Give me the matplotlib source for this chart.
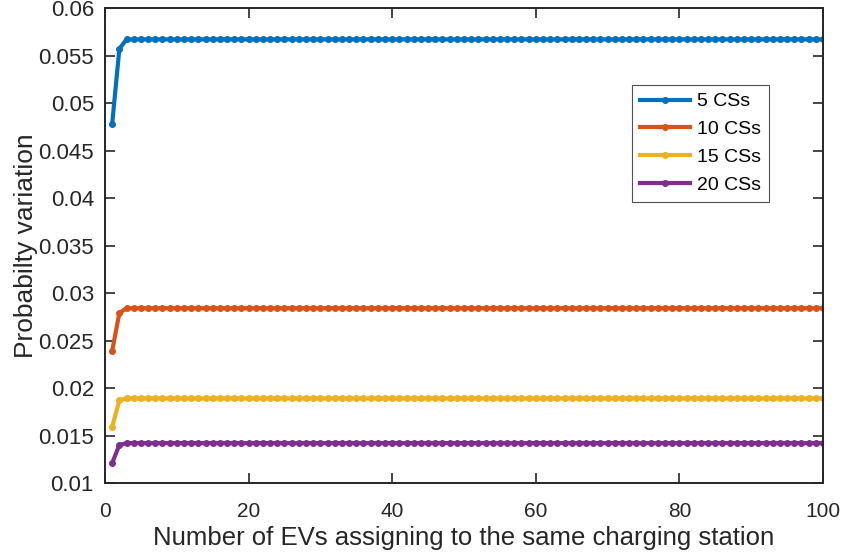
import numpy as np
import matplotlib
matplotlib.use("Agg")
import matplotlib.pyplot as plt

plt.rcParams["font.family"] = ["Liberation Sans", "DejaVu Sans"]

# x axis: number of EVs (1..100)
n_evs = np.arange(1, 101)

labels = ["5 CSs", "10 CSs", "15 CSs", "20 CSs"]
colors = ["#0072BD", "#D95319", "#EDB120", "#7E2F8E"]

# first two points read individually, then the curves stay flat
head_5 = [0.0478, 0.0557]
head_10 = [0.0239, 0.0279]
head_15 = [0.0159, 0.0187]
head_20 = [0.0121, 0.0140]
flat_5 = 0.0567
flat_10 = 0.0284
flat_15 = 0.0189
flat_20 = 0.0142

series = [
    head_5 + [flat_5] * 98,
    head_10 + [flat_10] * 98,
    head_15 + [flat_15] * 98,
    head_20 + [flat_20] * 98,
]

fig = plt.figure(figsize=(8.42, 5.52), dpi=100)
ax = fig.add_axes([0.1247, 0.125, 0.8527, 0.8605])

for ys, lab, c in zip(series, labels, colors):
    ax.plot(n_evs, ys, color=c, lw=3.0, marker="o", markersize=4.2,
            markeredgewidth=0.8, label=lab)

ax.set_xlim(0, 100)
ax.set_ylim(0.01, 0.06)
ax.set_xticks(np.arange(0, 101, 20))
ax.set_yticks(np.arange(0.01, 0.0601, 0.005))
ax.set_yticklabels(["0.01", "0.015", "0.02", "0.025", "0.03", "0.035",
                    "0.04", "0.045", "0.05", "0.055", "0.06"])

for s in ax.spines.values():
    s.set_color("#262626")
    s.set_linewidth(1.4)
ax.tick_params(direction="in", length=7, width=1.2, color="#262626",
               top=True, right=True, labelcolor="#262626")
ax.tick_params(axis="x", labelsize=15, pad=14)
ax.tick_params(axis="y", labelsize=16, pad=8)

ax.set_xlabel("Number of EVs assigning to the same charging station",
              fontsize=18.5, color="#262626", labelpad=3)
ax.set_ylabel("Probabilty variation", fontsize=19, color="#262626", labelpad=0)

leg = ax.legend(loc="upper left", bbox_to_anchor=(0.734, 0.838), fontsize=14,
                frameon=True, fancybox=False, edgecolor="#262626",
                handlelength=2.6, handletextpad=0.35, borderpad=0.4,
                labelspacing=0.53, borderaxespad=0)
leg.get_frame().set_linewidth(0.8)

fig.savefig("out.png", dpi=100, facecolor="white")
